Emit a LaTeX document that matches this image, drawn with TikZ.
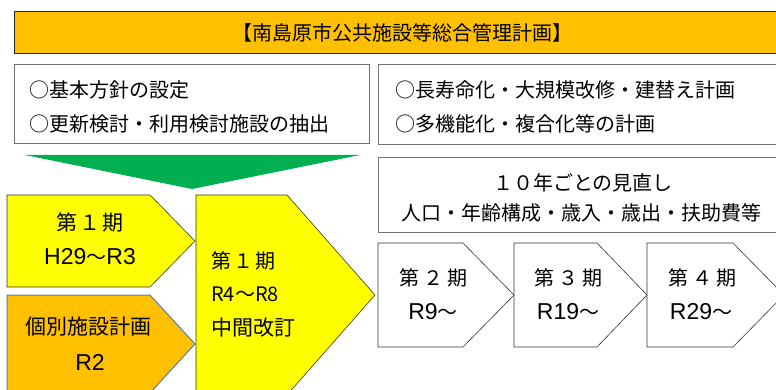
\documentclass[tikz,border=0pt]{standalone}
\usepackage{fontspec}
\setmainfont{Liberation Sans}
\newfontfamily\jp{Noto Sans CJK JP}
\newfontfamily\lat{Liberation Sans}
\definecolor{titleor}{HTML}{FFC000}
\definecolor{yel}{HTML}{FFFF00}
\definecolor{grn}{HTML}{00B050}
\definecolor{blueedge}{HTML}{4F81BD}
\tikzset{
  jt/.style={inner sep=0pt, font=\jp\fontsize{20}{24}\selectfont, text=black},
  jtl/.style={jt, anchor=west},
  lt/.style={inner sep=0pt, font=\lat\fontsize{23}{27}\selectfont, text=black},
  boxline/.style={draw=black!55, line width=1pt, fill=white},
  penta/.style={draw=black!80, line width=0.6pt},
}
\newcommand{\wave}{{\jp\fontsize{20}{24}\selectfont ～}}
\begin{document}
\begin{tikzpicture}[x=1pt,y=-1pt]
\useasboundingbox (0,0) rectangle (776,390);
\begin{scope}
\clip (0,0) rectangle (776,390);
% title bar
\draw[fill=titleor, draw=black!85, line width=1pt] (14,12) rectangle (795,54);
\node[jt] (title) at (402,33) {【南島原市公共施設等総合管理計画】};
% box 1
\draw[boxline] (14,65) rectangle (369,144);
\node[jtl] (b1a) at (29,90) {○基本方針の設定};
\node[jtl] (b1b) at (29,124) {○更新検討・利用検討施設の抽出};
% box 2
\draw[boxline] (378,65) rectangle (795,145);
\node[jtl] (b2a) at (395,90) {○長寿命化・大規模改修・建替え計画};
\node[jtl] (b2b) at (395,124) {○多機能化・複合化等の計画};
% green arrow
\fill[grn] (25,155) -- (360,155) -- (192,189) -- cycle;
% box 3
\draw[boxline] (378,158) rectangle (795,232);
\node[jt] (b3a) at (583,183) {１０年ごとの見直し};
\node[jt] (b3b) at (581,213) {人口・年齢構成・歳入・歳出・扶助費等};
% pentagon period 1
\draw[penta, fill=yel] (7,195) -- (150,195) -- (195,241) -- (150,287) -- (7,287) -- cycle;
\node[jt, font=\jp\fontsize{21}{24}\selectfont] (p1a) at (90,223) {第\hspace{2pt}１\hspace{2pt}期};
\node[lt] (p1b) at (90,257) {H29\wave R3};
% individual plan
\draw[draw=blueedge, line width=1pt, fill=titleor] (7,295) -- (150,295) -- (195,344) -- (150,393) -- (7,393) -- cycle;
\node[jt, font=\jp\fontsize{21}{24}\selectfont] (ind) at (88,327) {個別施設計画};
\node[lt] (indr) at (90,362) {R2};
% big pentagon
\draw[penta, fill=yel] (196,195) -- (287,195) -- (375,295) -- (287,395) -- (196,395) -- cycle;
\node[jtl] (bp1) at (211,261) {第\hspace{2pt}１\hspace{2pt}期};
\node[jtl] (bp2) at (211,294) {R4～R8};
\node[jtl, font=\jp\fontsize{21}{24}\selectfont] (bp3) at (211,328) {中間改訂};
% white pentagons
\draw[penta, fill=white] (378,243) -- (463,243) -- (514,295) -- (463,347) -- (378,347) -- cycle;
\draw[penta, fill=white] (514,243) -- (597,243) -- (647,295) -- (597,347) -- (514,347) -- cycle;
\draw[penta, fill=white] (647,243) -- (733,243) -- (784,295) -- (733,347) -- (647,347) -- cycle;
\node[jt] (q2a) at (433,278) {第\hspace{4pt}２\hspace{4pt}期};
\node[lt] (q2b) at (433,312) {R9\wave};
\node[jt] (q3a) at (568,278) {第\hspace{4pt}３\hspace{4pt}期};
\node[lt] (q3b) at (568,312) {R19\wave};
\node[jt] (q4a) at (702,278) {第\hspace{4pt}４\hspace{4pt}期};
\node[lt] (q4b) at (701,312) {R29\wave};
\end{scope}
\end{tikzpicture}
\end{document}
